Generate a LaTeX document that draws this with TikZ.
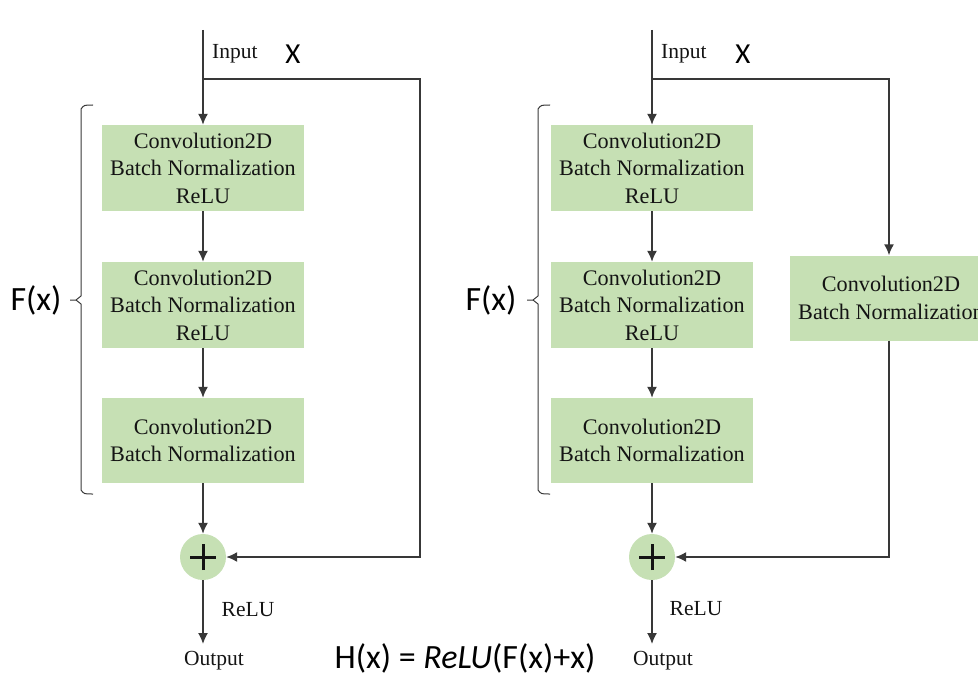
\documentclass[tikz,border=0pt]{standalone}
\usepackage{fontspec}
\setmainfont{Liberation Serif}
\newfontfamily\calib{Carlito}
\usetikzlibrary{arrows.meta}
\definecolor{boxgreen}{HTML}{C6E0B4}
\definecolor{wire}{HTML}{383838}
\definecolor{ink}{HTML}{141414}
\begin{document}
\begin{tikzpicture}[x=1pt,y=-1pt,
  layer/.style={fill=boxgreen,draw=none,minimum width=202pt,minimum height=86pt,
    align=center,inner sep=0pt,text=ink,font=\fontsize{22.2}{27.5}\selectfont},
  addnode/.style={circle,fill=boxgreen,minimum size=46pt,inner sep=0pt},
  flow/.style={draw=wire,line width=1.6pt,-{Latex[length=11pt,width=10pt]}},
  lbl/.style={text=ink,inner sep=0pt,font=\fontsize{21.5}{26}\selectfont},
  sans/.style={text=black,inner sep=0pt,font=\calib\fontsize{34}{38}\selectfont},
  xlbl/.style={text=black,inner sep=0pt,font=\calib\fontsize{29}{32}\selectfont},
  bracket/.style={draw=wire,line width=1pt}]
\useasboundingbox (0,0) rectangle (978,693);
\clip (0,0) rectangle (978,693);

% ---------- plain residual block ----------
\coordinate (inL) at (203,30);
\coordinate (brL) at (203,79);
\coordinate (c1L) at (420,79);
\coordinate (c2L) at (420,557);
\coordinate (outL) at (203,644);
\node[layer] (b1L) at (203,168) {Convolution2D\\Batch Normalization\\ReLU};
\node[layer] (b2L) at (203,305) {Convolution2D\\Batch Normalization\\ReLU};
\node[layer,minimum height=85pt] (b3L) at (203,440.5) {Convolution2D\\Batch Normalization};
\node[addnode] (addL) at (203,557) {};
\draw[line width=3pt,ink] ([xshift=-13pt]addL.center) -- ([xshift=13pt]addL.center)
  ([yshift=-13pt]addL.center) -- ([yshift=13pt]addL.center);

\draw[flow] (inL) -- (b1L.north);
\draw[flow] (b1L.south) -- (b2L.north);
\draw[flow] (b2L.south) -- (b3L.north);
\draw[flow] (b3L.south) -- (addL.north);
\draw[flow] (brL) -- (c1L) -- (c2L) -- (addL.east);
\draw[flow] (addL.south) -- (outL);

\node[lbl,anchor=west] (inTxtL) at (212,54) {Input};
\node[xlbl] (xL) at (293,54) {X};
\node[lbl] (reluL) at (248,610) {ReLU};
\node[lbl] (outTxtL) at (214,661) {Output};

\draw[bracket] (93,105) .. controls (84,105) .. (81,109) -- (81,296) -- (76,300) -- (70,300);
\draw[bracket] (76,300) -- (81,304) -- (81,490) .. controls (84,494) .. (93,494);
\node[sans] (fL) at (36,300) {F(x)};

% ---------- residual block with projection shortcut ----------
\coordinate (inR) at (652,30);
\coordinate (brR) at (652,79);
\coordinate (c1R) at (889,79);
\coordinate (c2R) at (889,557);
\coordinate (outR) at (652,644);
\node[layer] (b1R) at (652,168) {Convolution2D\\Batch Normalization\\ReLU};
\node[layer] (b2R) at (652,305) {Convolution2D\\Batch Normalization\\ReLU};
\node[layer,minimum height=85pt] (b3R) at (652,440.5) {Convolution2D\\Batch Normalization};
\node[layer,minimum height=85pt] (scR) at (891,298) {Convolution2D\\Batch Normalization};
\node[addnode] (addR) at (652,557) {};
\draw[line width=3pt,ink] ([xshift=-13pt]addR.center) -- ([xshift=13pt]addR.center)
  ([yshift=-13pt]addR.center) -- ([yshift=13pt]addR.center);

\draw[flow] (inR) -- (b1R.north);
\draw[flow] (b1R.south) -- (b2R.north);
\draw[flow] (b2R.south) -- (b3R.north);
\draw[flow] (b3R.south) -- (addR.north);
\draw[flow] (brR) -- (c1R) -- (c1R |- scR.north);
\draw[flow] (c1R |- scR.south) -- (c2R) -- (addR.east);
\draw[flow] (addR.south) -- (outR);

\node[lbl,anchor=west] (inTxtR) at (661,54) {Input};
\node[xlbl] (xR) at (743,54) {X};
\node[lbl] (reluR) at (696,609) {ReLU};
\node[lbl] (outTxtR) at (663,661) {Output};

\draw[bracket] (550,105) .. controls (541,105) .. (538,109) -- (538,296) -- (533,300) -- (527,300);
\draw[bracket] (533,300) -- (538,304) -- (538,490) .. controls (541,494) .. (550,494);
\node[sans] (fR) at (491,300) {F(x)};

% ---------- formula ----------
\node[sans] (eq) at (465,658) {H(x) = \textit{ReLU}(F(x)+x)};
\end{tikzpicture}
\end{document}
